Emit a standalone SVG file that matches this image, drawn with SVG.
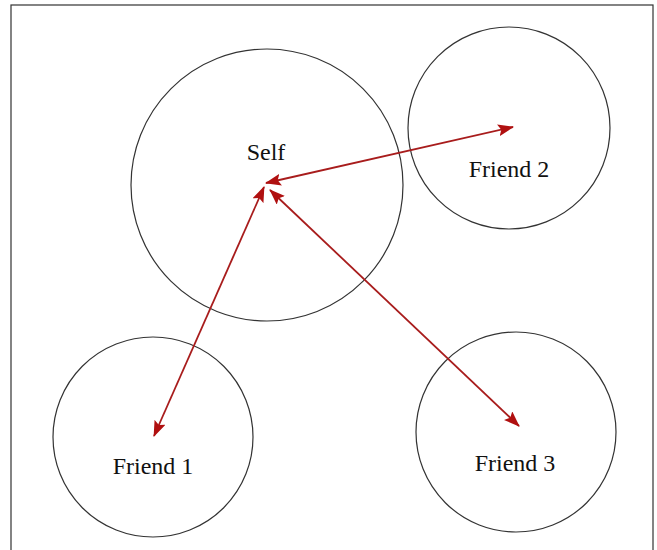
<svg xmlns="http://www.w3.org/2000/svg" width="657" height="550" viewBox="0 0 657 550">
<style>
.c{fill:none;stroke:#333;stroke-width:1.2}
.t{font-family:"Liberation Serif",serif;font-size:24px;fill:#111;text-anchor:middle}
.a{stroke:#a81c1c;stroke-width:1.8;fill:none;marker-start:url(#h);marker-end:url(#h)}
</style>
<defs>
<marker id="h" viewBox="0 0 16 12" refX="15" refY="6" markerWidth="16" markerHeight="12" markerUnits="userSpaceOnUse" orient="auto-start-reverse">
<path d="M0,0 L16,6 L0,12 L3,6 Z" fill="#b01010"/>
</marker>
</defs>
<rect x="11" y="5" width="642" height="600" fill="#fff" stroke="#333" stroke-width="1.2"/>
<g id="self"><circle class="c" cx="267" cy="185" r="136"/><text class="t" x="266" y="160">Self</text></g>
<g id="friend2"><circle class="c" cx="509" cy="128" r="101"/><text class="t" x="509" y="177">Friend 2</text></g>
<g id="friend1"><circle class="c" cx="153" cy="437" r="100"/><text class="t" x="153" y="474">Friend 1</text></g>
<g id="friend3"><circle class="c" cx="516" cy="432" r="100"/><text class="t" x="515" y="471">Friend 3</text></g>
<g id="connectors">
<line class="a" x1="266" y1="183" x2="513" y2="127"/>
<line class="a" x1="264" y1="187" x2="154" y2="436"/>
<line class="a" x1="270" y1="190" x2="519" y2="426"/>
</g>
</svg>
